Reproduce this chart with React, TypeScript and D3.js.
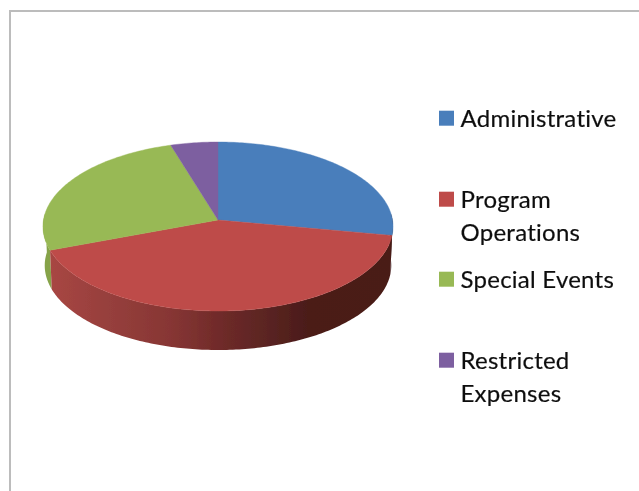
import React from "react";
import * as d3 from "d3";

const categories = ["Administrative", "Program Operations", "Special Events", "Restricted Expenses"];
const values = [27.9, 41.4, 26.0, 4.7];
const colors = ["#4a7ebb", "#be4b48", "#98b954", "#7d5fa0"];
const legendLines = [["Administrative"], ["Program", "Operations"], ["Special Events"], ["Restricted", "Expenses"]];
const legendBaselines = [126, 207, 287, 368];
const wallStops: [number, string][] = [
  [0, "#a84643"], [0.15, "#98403d"], [0.35, "#873634"], [0.5, "#6f2a29"], [0.62, "#5c2523"], [0.75, "#4b1c19"], [1, "#4a1b18"],
];

const W = 639, H = 491;
const cx = 218, cy = 220, A = 174.5, B = 84, P = 0.077, DEPTH = 39, BOTTOM_X = 0.99;

// Perspective projection of a point on the pie's rim (angle clockwise from the top)
const project = (t: number, dy = 0, sx = 1): [number, number] => {
  const u = Math.sin(t), v = -Math.cos(t);
  const w = 1 - P * v;
  return [cx + (sx * A * u) / w, cy + (B * v) / w + dy];
};

const pieGen = d3.pie<number>().sort(null).startAngle(0).endAngle(2 * Math.PI);
const arcs = pieGen(values);
const line = d3.line();
const rim = (a: number, b: number, dy = 0, sx = 1) => {
  const n = Math.max(4, Math.ceil(Math.abs(b - a) * 60));
  return d3.range(n + 1).map((i) => project(a + ((b - a) * i) / n, dy, sx));
};
const slicePath = (a: number, b: number) => line([[cx, cy], ...rim(a, b)])! + "Z";
const wallPath = (a: number, b: number) => line([...rim(a, b), ...rim(b, a, DEPTH, BOTTOM_X)])! + "Z";

const RIGHT = Math.PI * 0.5 - 0.08;
const LEFT = Math.PI * 1.5 + 0.08;

export default function App() {
  const red = arcs[1], blue = arcs[0], green = arcs[2];
  return (
    <svg width={W} height={H} viewBox={`0 0 ${W} ${H}`} style={{ position: "absolute", left: 0, top: 0, display: "block", background: "#fff" }}>
      <defs>
        <linearGradient id="wall" gradientUnits="userSpaceOnUse" x1={50} x2={393} y1={0} y2={0}>
          {wallStops.map(([o, c], i) => <stop key={i} offset={o} stopColor={c} />)}
        </linearGradient>
        <filter id="soft" x="-5%" y="-5%" width="110%" height="110%">
          <feGaussianBlur stdDeviation={0.45} />
        </filter>
        <filter id="softText" x="-5%" y="-5%" width="110%" height="110%">
          <feGaussianBlur stdDeviation={0.3} />
        </filter>
      </defs>
      <path d={`M10 491V11H639`} fill="none" stroke="#bcbcbc" strokeWidth={2} />
      <g filter="url(#soft)">
        <path d={wallPath(RIGHT, blue.endAngle)} fill="#3a2424" />
        <path d={wallPath(green.startAngle, LEFT)} fill="#86a34a" />
        <path d={wallPath(red.startAngle, red.endAngle)} fill="url(#wall)" />
        {arcs.map((d, i) => (
          <path key={categories[i]} d={slicePath(d.startAngle, d.endAngle)} fill={colors[i]} stroke={colors[i]} strokeWidth={0.4} />
        ))}
      </g>
      <g filter="url(#softText)">
        {categories.map((c, i) => (
          <g key={c}>
            <rect x={439} y={legendBaselines[i] - 15.3} width={15} height={15} fill={colors[i]} />
            <text x={460.5} y={legendBaselines[i] + 0.8} fontFamily="Lato, sans-serif" fontSize={24} letterSpacing={0.25} fill="#111" stroke="#111" strokeWidth={0.2}>
              {legendLines[i].map((t, j) => (
                <tspan key={t} x={460.5} dy={j === 0 ? 0 : 33}>{t}</tspan>
              ))}
            </text>
          </g>
        ))}
      </g>
    </svg>
  );
}
